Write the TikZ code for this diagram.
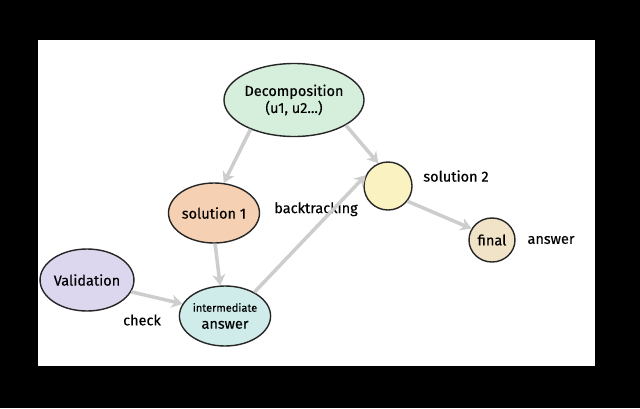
\documentclass[tikz,border=0pt]{standalone}
\usepackage{fontspec}
\setmainfont{Fira Sans}[FakeBold=0.3]
\usetikzlibrary{shapes.geometric,arrows.meta}
\definecolor{decgreen}{HTML}{D6EEDC}
\definecolor{solpeach}{HTML}{F6D0B2}
\definecolor{solyellow}{HTML}{FBF2C2}
\definecolor{finbeige}{HTML}{F1E3C8}
\definecolor{vallilac}{HTML}{DDD6EF}
\definecolor{intcyan}{HTML}{CFECEA}
\definecolor{flowgray}{HTML}{CDCDCD}
\begin{document}
\begin{tikzpicture}[x=1pt,y=-1pt,
  bubble/.style={ellipse,draw=black!85,line width=1.4pt,inner sep=0pt,align=center,
    font=\fontsize{14.5}{17}\selectfont},
  flow/.style={draw=flowgray,line width=3.5pt,-{Stealth[length=11pt,width=13pt]}},
  tag/.style={font=\fontsize{14.5}{17}\selectfont}]
\useasboundingbox (0,0) rectangle (640,408);
\fill[black] (0,0) rectangle (640,408);
\fill[white] (38,40) rectangle (595,366);

\node[bubble,fill=decgreen,minimum width=115pt,minimum height=73pt] (dec) at (294,100) {Decomposition\\(u1, u2...)};
\node[bubble,fill=solpeach,minimum width=78pt,minimum height=60pt] (sol1) at (214,213) {solution 1};
\node[bubble,fill=solyellow,minimum width=48pt,minimum height=48pt] (sol2) at (388,186) {};
\node[bubble,fill=finbeige,minimum width=46pt,minimum height=44pt] (fin) at (492,240) {final};
\node[bubble,fill=vallilac,minimum width=78pt,minimum height=62pt] (val) at (87,280) {Validation};
\node[bubble,fill=intcyan,minimum width=72pt,minimum height=60pt] (inter) at (225,316)
  {{\fontsize{11}{12.5}\selectfont intermediate}\\answer};

\node[tag] (sol2tag) at (456,176) {solution 2};
\node[tag] (fintag) at (551,240) {answer};
\node[tag] (back) at (316,209) {backtracking};
\node[tag] (check) at (142,320) {check};

\draw[flow] (dec.214) -- (sol1.72);
\draw[flow] (dec.334) -- (sol2.113);
\draw[flow] (sol1.272) -- (inter.99);
\draw[flow] (val.345) -- (inter.164);
\draw[flow] (inter.39) -- (sol2.154);
\draw[flow] (sol2.322) -- (fin.151);
\end{tikzpicture}
\end{document}
